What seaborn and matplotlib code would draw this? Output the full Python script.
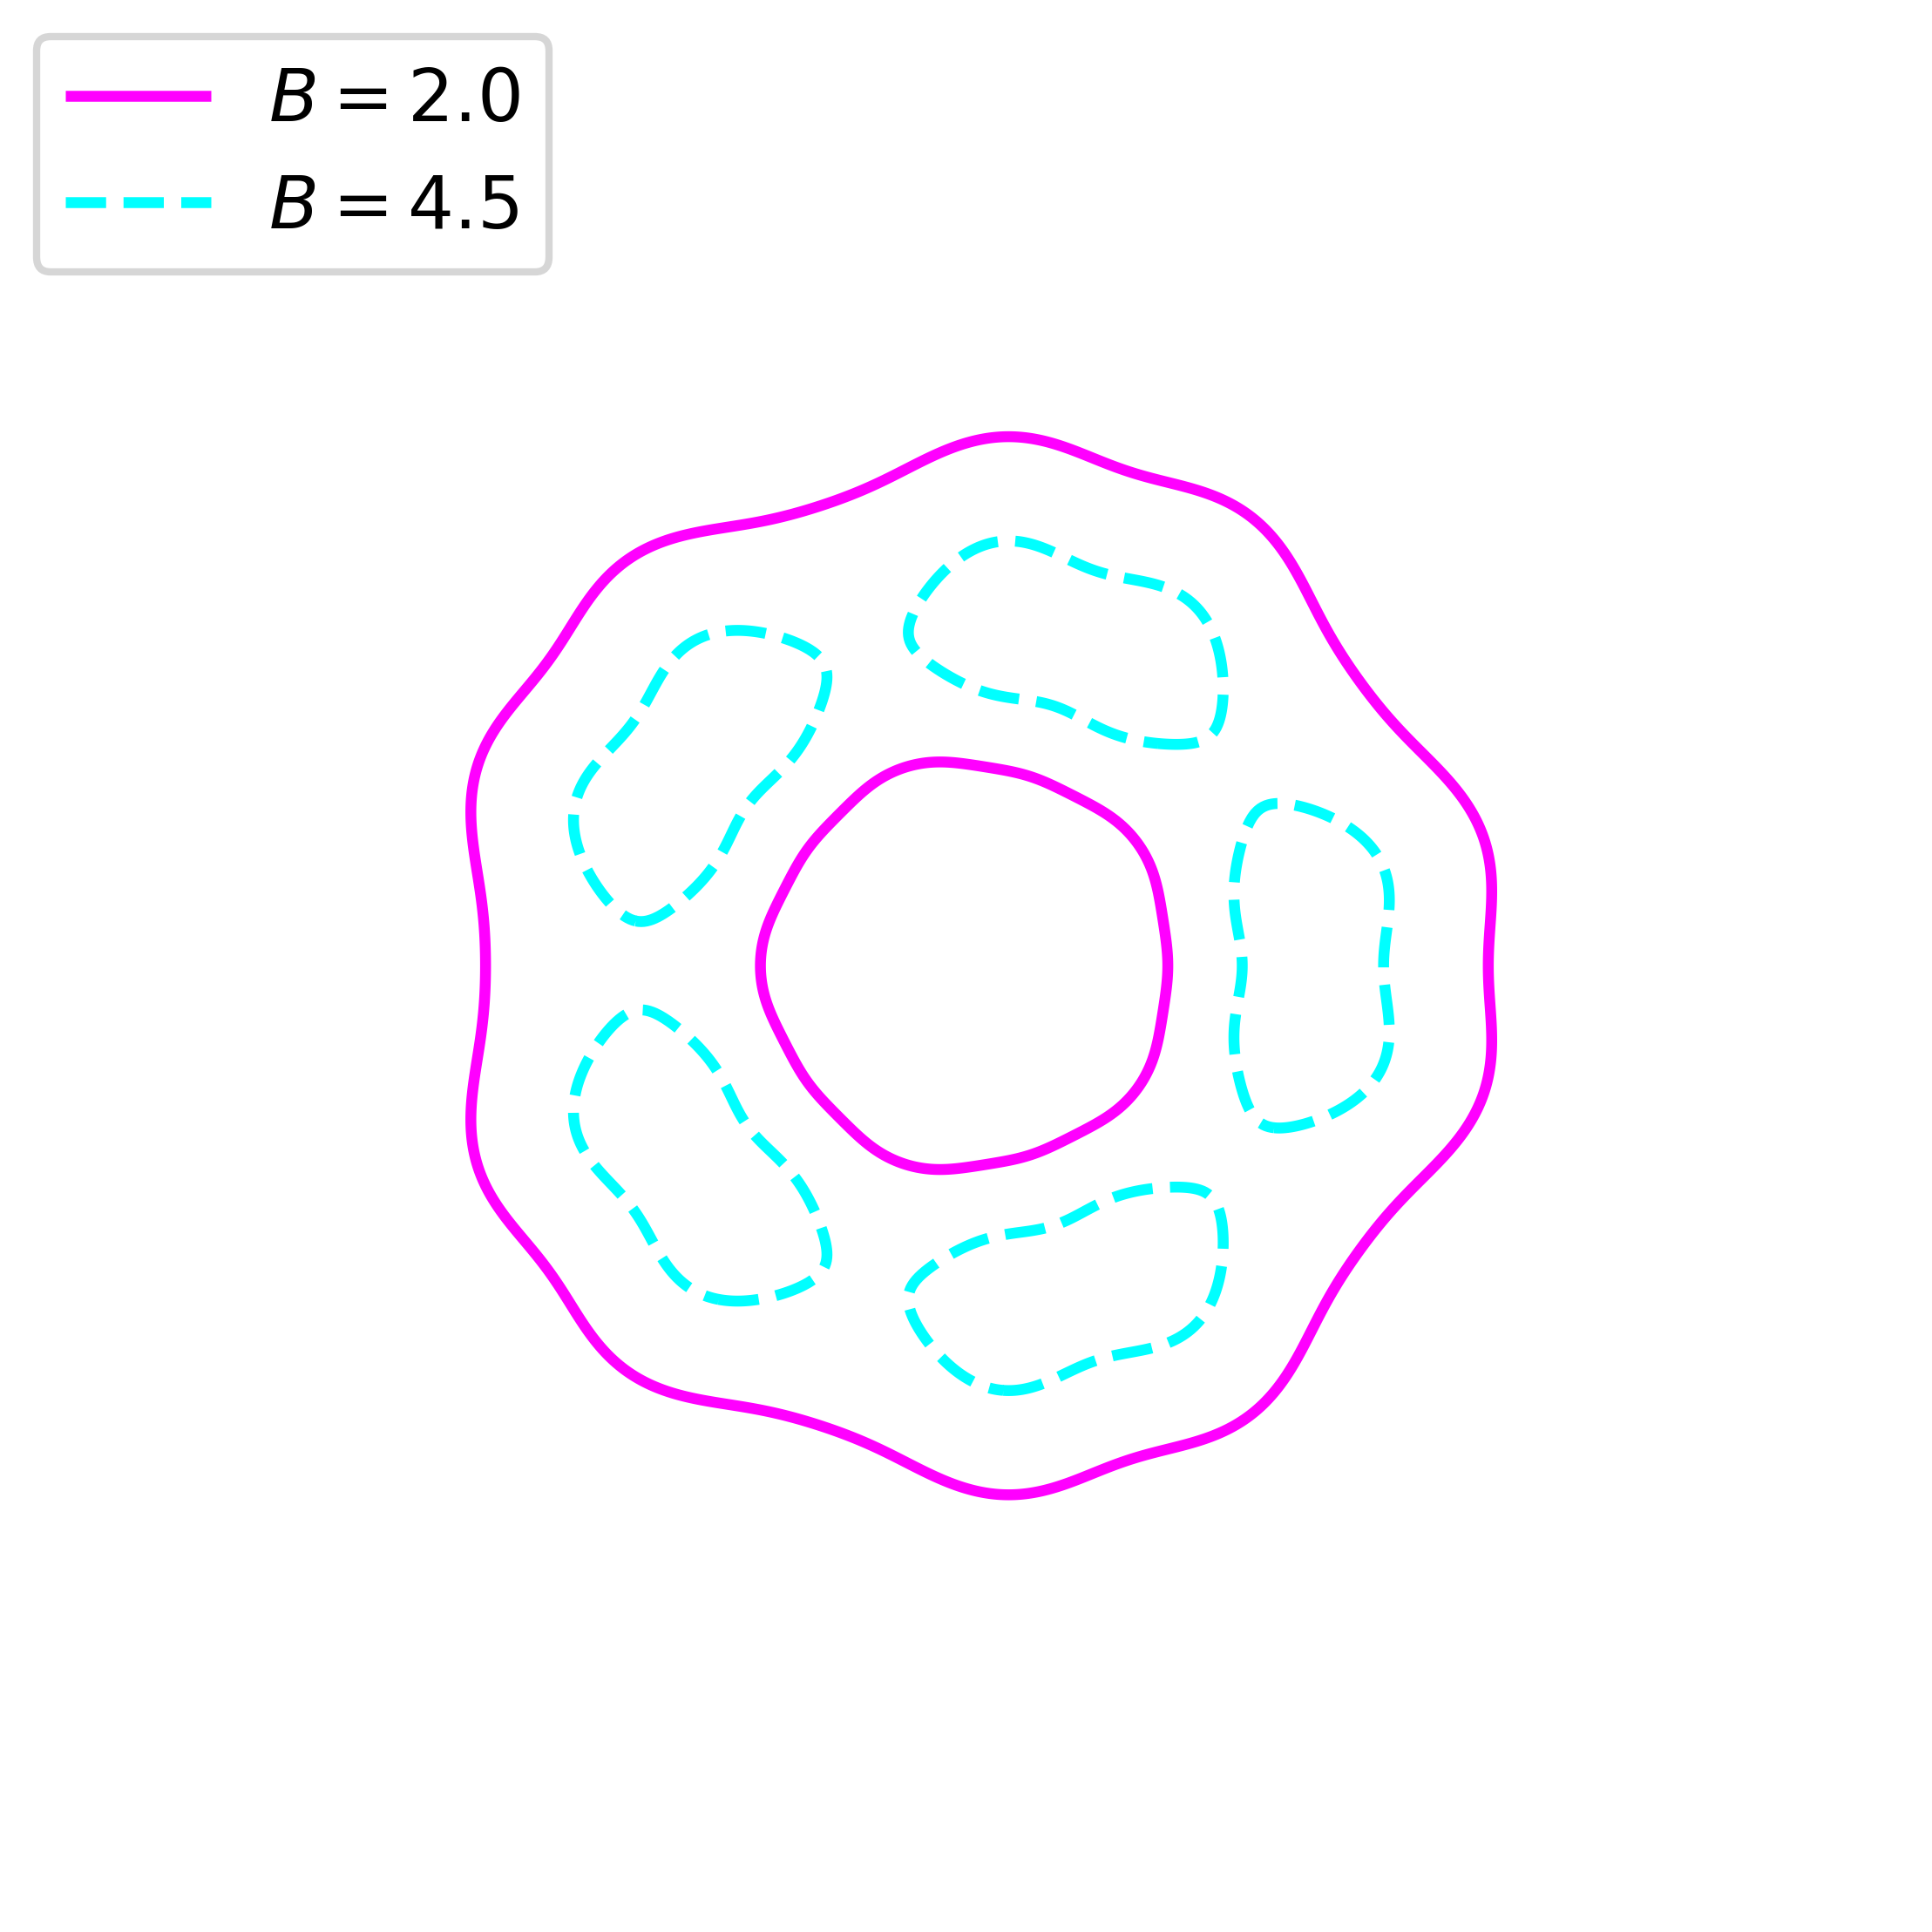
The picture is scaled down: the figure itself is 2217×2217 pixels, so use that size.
import numpy as np
import matplotlib.pyplot as plt
import seaborn as sns
from matplotlib.lines import Line2D

# contour levels and their styling
levels = [2.0, 4.5]
level_colors = ['magenta', 'cyan']
level_styles = ['solid', 'dashed']
level_labels = [r'$B = 2.0$', r'$B = 4.5$']

# radial envelope:  ln B0(r) = c0 + c1*ln(r) - c2*r**1.5
radial_coef = [8.121, 5.913, 7.502]

# five-fold angular modulation: sum a_k*cos(k*theta) * (r/r_ring)**s_k
harmonics = [0, 5, 10, 15]
harmonic_amp = [-0.019, 0.198, -0.068, -0.025]
harmonic_growth = [0, 0, 1, 1]
r_ring = 0.665

# view window (field units) and grid
x_range = (-1.853, 1.842)
y_range = (-1.848, 1.847)
n_grid = 700


def field_B(x, y):
    r = np.hypot(x, y)
    t = np.arctan2(y, x)
    c0, c1, c2 = radial_coef
    env = np.exp(c0) * r ** c1 * np.exp(-c2 * r ** 1.5)
    mod = sum(a * (r / r_ring) ** s * np.cos(k * t)
              for k, a, s in zip(harmonics, harmonic_amp, harmonic_growth))
    return env * (1 + r * mod)


sns.set_theme(context='poster', style='white')
plt.rcParams['text.color'] = 'black'

x = np.linspace(*x_range, n_grid)
y = np.linspace(*y_range, n_grid)
X, Y = np.meshgrid(x, y)
B = field_B(X, Y)

fig = plt.figure(figsize=(7.39, 7.39), dpi=300)
ax = fig.add_axes([0, 0, 1, 1])
ax.contour(X, Y, B, levels=levels, colors=level_colors,
           linestyles=level_styles, linewidths=3)
ax.set_xlim(*x_range)
ax.set_ylim(*y_range)
ax.set_aspect('equal')
ax.axis('off')

handles = [Line2D([], [], color=c, linestyle=s, lw=3,
                  solid_capstyle='butt', dash_capstyle='butt')
           for c, s in zip(level_colors, level_styles)]
ax.legend(handles, level_labels, loc='upper left', fontsize=20,
          labelcolor='black')

fig.savefig('out.png', dpi=300)
